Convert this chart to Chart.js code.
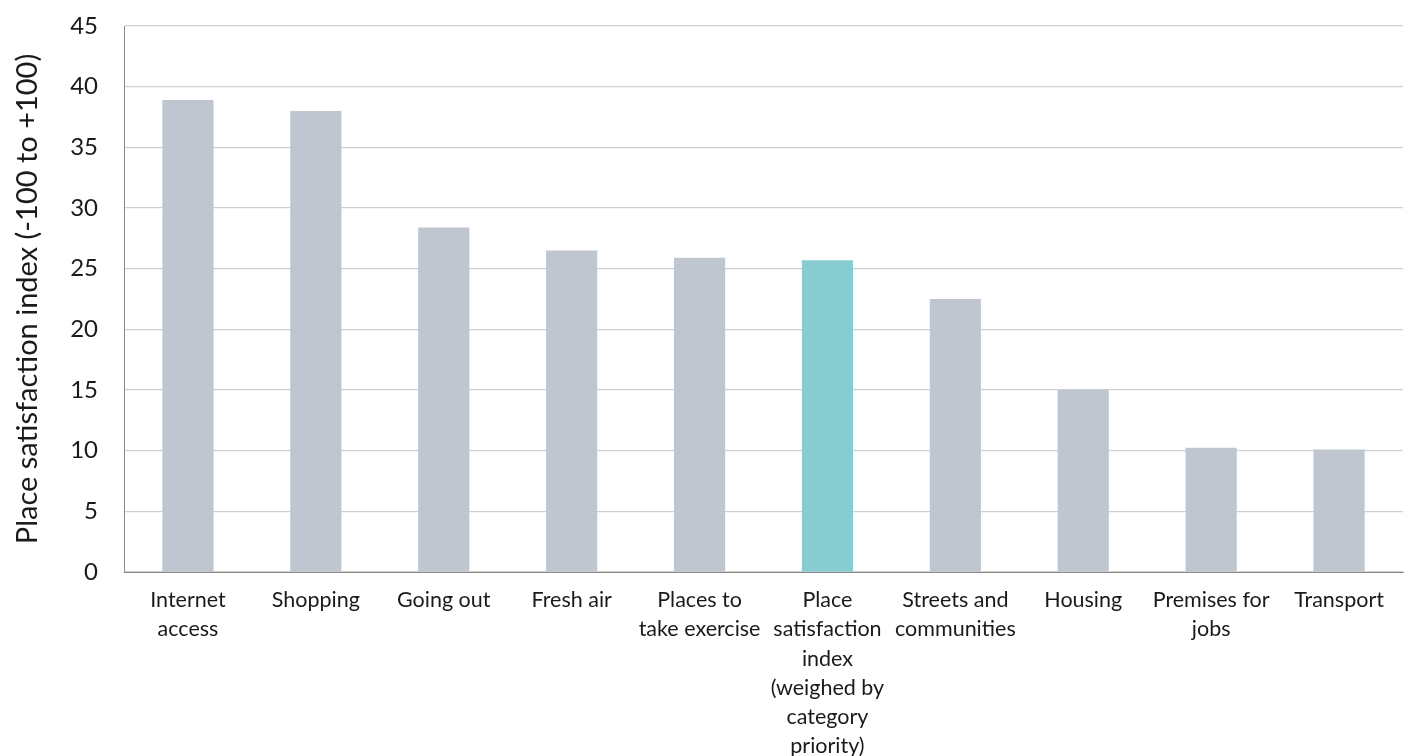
<!DOCTYPE html>
<html>
<head>
<meta charset="utf-8">
<script src="https://cdn.jsdelivr.net/npm/chart.js@4/dist/chart.umd.min.js"></script>
<style>
html,body{margin:0;padding:0;background:#fff;}
#wrap{width:1408px;height:756px;position:relative;}
</style>
</head>
<body>
<div id="wrap"><canvas id="c"></canvas></div>
<script>
const categories = [
  ["Internet","access"],
  ["Shopping"],
  ["Going out"],
  ["Fresh air"],
  ["Places to","take exercise"],
  ["Place","satisfaction","index","(weighed by","category","priority)"],
  ["Streets and","communities"],
  ["Housing"],
  ["Premises for","jobs"],
  ["Transport"]
];
const values = [38.9, 38.0, 28.4, 26.5, 25.9, 25.7, 22.5, 15.0, 10.25, 10.1];
const highlightIndex = 5;
const yTicks = [0,5,10,15,20,25,30,35,40,45];
const yTitle = "Place satisfaction index (-100 to +100)";

const colors = values.map((v,i)=> i===highlightIndex ? '#86CCD0' : '#BFC6D0');

Chart.defaults.font.family = "Lato, 'Open Sans', sans-serif";
Chart.defaults.color = '#1a1a1a';

new Chart(document.getElementById('c'), {
  type: 'bar',
  data: {
    labels: categories,
    datasets: [{
      data: values,
      backgroundColor: colors,
      borderWidth: 0,
      barPercentage: 0.4,
      categoryPercentage: 1.0
    }]
  },
  options: {
    responsive: true,
    maintainAspectRatio: false,
    animation: false,
    layout: { padding: { top: 26, right: 5, left: 0, bottom: 0 } },
    plugins: { legend: { display: false }, tooltip: { enabled: false } },
    scales: {
      x: {
        grid: { display: false, drawTicks: false },
        border: { display: true, color: '#8a8a8a', width: 1 },
        ticks: { font: { size: 21.5, lineHeight: 1.35 }, padding: 14, maxRotation: 0, autoSkip: false, color: '#1a1a1a' },
        afterFit: (s) => { s.height = 184; s.paddingLeft = 0; s.paddingRight = 0; }
      },
      y: {
        min: 0, max: 45,
        afterBuildTicks: (s) => { s.ticks = yTicks.map(v => ({ value: v })); },
        grid: { color: '#cfcfcf', lineWidth: 1.2, drawTicks: false },
        border: { display: true, color: '#8a8a8a', width: 1 },
        ticks: { font: { size: 24 }, padding: 26, color: '#1a1a1a' },
        title: { display: true, text: yTitle, font: { size: 29 }, padding: { top: 10, bottom: 0 }, color: '#1a1a1a' },
        afterFit: (s) => { s.width = 124; s.paddingTop = 0; s.paddingBottom = 0; }
      }
    }
  }
});
</script>
</body>
</html>
